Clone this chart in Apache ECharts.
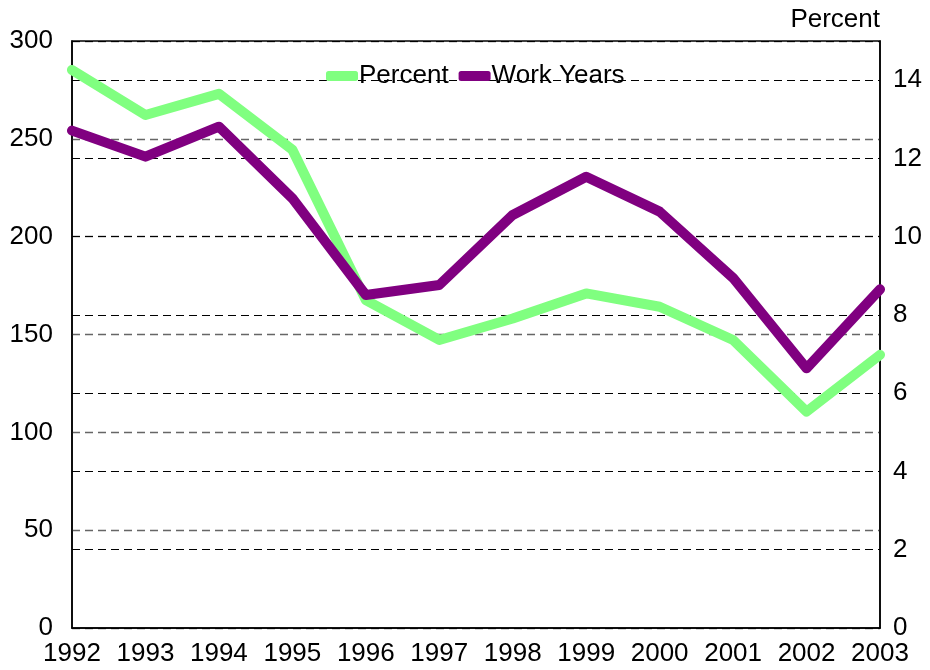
<!DOCTYPE html>
<html>
<head>
<meta charset="utf-8">
<script src="https://cdn.jsdelivr.net/npm/echarts@6/dist/echarts.min.js"></script>
<style>html,body{margin:0;padding:0;background:#fff}#c{width:930px;height:670px}</style>
</head>
<body>
<div id="c"></div>
<script>
const years = ['1992','1993','1994','1995','1996','1997','1998','1999','2000','2001','2002','2003'];
const percent = [14.26, 13.11, 13.65, 12.22, 8.38, 7.36, 7.91, 8.55, 8.21, 7.36, 5.53, 6.98];
const workYears = [254.2, 240.9, 256.2, 219.6, 170.2, 175.3, 211.1, 230.6, 212.8, 178.9, 132.7, 173.1];

const font = 'Liberation Sans, Arial, sans-serif';
const fs = 26;
const chart = echarts.init(document.getElementById('c'));
chart.setOption({
  animation: false,
  backgroundColor: '#fff',
  grid: { left: 72, right: 50, top: 41, bottom: 42, show: true, borderColor: '#000', borderWidth: 1.5, containLabel: false },
  legend: {
    left: 321, top: 58,
    itemWidth: 32, itemHeight: 10, itemGap: 10,
    icon: 'roundRect',
    textStyle: { fontFamily: font, fontSize: fs, color: '#000', padding: [0, 0, 0, -4] },
    data: ['Percent', 'Work Years']
  },
  xAxis: {
    type: 'category', data: years, boundaryGap: false,
    axisLine: { lineStyle: { color: '#000', width: 1.5 } },
    axisTick: { show: false },
    axisLabel: { fontFamily: font, fontSize: fs, color: '#000', margin: 13, interval: 0 },
    splitLine: { show: false }
  },
  yAxis: [
    {
      type: 'value', min: 0, max: 300, interval: 50, position: 'left',
      axisLine: { show: true, lineStyle: { color: '#000', width: 1.5 } },
      axisTick: { show: false },
      axisLabel: { fontFamily: font, fontSize: fs, color: '#000', margin: 19 },
      splitLine: { show: true, lineStyle: { color: '#666', type: [8, 5], width: 1.3 } }
    },
    {
      type: 'value', min: 0, max: 15, interval: 2, position: 'right',
      name: 'Percent', nameLocation: 'end', nameGap: 21,
      nameTextStyle: { fontFamily: font, fontSize: fs, color: '#000', align: 'right', verticalAlign: 'middle' },
      axisLine: { show: true, lineStyle: { color: '#000', width: 1.5 } },
      axisTick: { show: false },
      axisLabel: { fontFamily: font, fontSize: fs, color: '#000', margin: 13, showMaxLabel: false },
      splitLine: { show: true, lineStyle: { color: '#000', type: [8, 5], width: 1 } }
    }
  ],
  series: [
    {
      name: 'Percent', type: 'line', yAxisIndex: 1, data: percent,
      showSymbol: false, symbol: 'none', color: '#80FF80',
      lineStyle: { color: '#80FF80', width: 10, cap: 'round', join: 'round' }, z: 3
    },
    {
      name: 'Work Years', type: 'line', yAxisIndex: 0, data: workYears,
      showSymbol: false, symbol: 'none', color: '#800080',
      lineStyle: { color: '#800080', width: 10, cap: 'round', join: 'round' }, z: 4
    }
  ]
});
</script>
</body>
</html>
